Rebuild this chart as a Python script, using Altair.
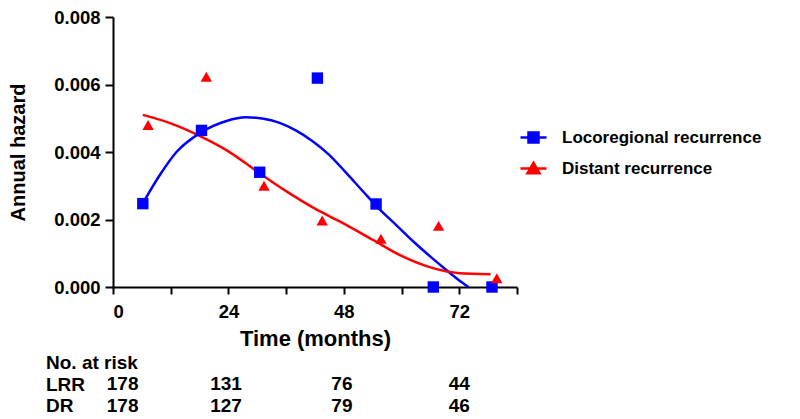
import altair as alt
import pandas as pd

# ---- data ----
series_names = ["Locoregional recurrence", "Distant recurrence"]
series_colors = ["#0000ff", "#ff0000"]
series_shapes = ["square", "triangle-up"]

lrr_months = [6.2, 18.4, 30.5, 42.5, 54.7, 66.6, 78.8]
lrr_hazard = [0.00247, 0.00464, 0.00340, 0.00619, 0.00246, 0.0, 0.0]
dr_months = [7.3, 19.4, 31.4, 43.5, 55.7, 67.7, 79.8]
dr_hazard = [0.00480, 0.00623, 0.00300, 0.00197, 0.00143, 0.00181, 0.00026]

# fitted curves
lrr_fit_months = [6.2, 9.7, 13.2, 18.4, 23.6, 27.5, 31.0, 34.5, 38.0, 41.5, 45.0,
                  48.5, 52.0, 55.5, 59.0, 62.5, 66.0, 69.5, 72.5, 73.9]
lrr_fit_hazard = [0.00248, 0.00331, 0.00400, 0.00459, 0.00492, 0.00503, 0.00499,
                  0.00487, 0.00464, 0.00432, 0.00391, 0.00338, 0.00283, 0.00229,
                  0.00182, 0.00134, 0.00090, 0.00048, 0.00014, 0.0]
dr_fit_months = [6.2, 12, 18, 24, 30, 36, 42, 48, 54, 60, 66, 72, 78.5]
dr_fit_hazard = [0.00510, 0.00485, 0.00448, 0.00402, 0.00342, 0.00284, 0.00232,
                 0.00188, 0.00140, 0.00092, 0.00058, 0.00041, 0.00038]

# number at risk table
risk_rows = ["No. at risk", "LRR", "DR"]
risk_months = [2, 23.5, 47.6, 72]
risk_lrr = [178, 131, 76, 44]
risk_dr = [178, 127, 79, 46]

x_ticks = [0, 12, 24, 36, 48, 60, 72, 84]
y_ticks = [0.0, 0.002, 0.004, 0.006, 0.008]

FONT = "Liberation Sans"

# ---- tables ----
pts = pd.DataFrame({
    "month": lrr_months + dr_months,
    "hazard": lrr_hazard + dr_hazard,
    "series": [series_names[0]] * len(lrr_months) + [series_names[1]] * len(dr_months),
})
fit = pd.DataFrame({
    "month": lrr_fit_months + dr_fit_months,
    "hazard": lrr_fit_hazard + dr_fit_hazard,
    "series": [series_names[0]] * len(lrr_fit_months) + [series_names[1]] * len(dr_fit_months),
    "order": list(range(len(lrr_fit_months))) + list(range(len(dr_fit_months))),
})
risk = pd.DataFrame({
    "month": risk_months * 2,
    "count": risk_lrr + risk_dr,
    "row": [risk_rows[1]] * len(risk_months) + [risk_rows[2]] * len(risk_months),
})

# legend symbols: line + marker
sym_lrr = "M-2.6,0H2.6M-1,-1H1V1H-1Z"
sym_dr = "M-2.6,0H2.6M0,-1.15L1.2,0.95H-1.2Z"
shape_expr = f"datum.value === '{series_names[0]}' ? '{sym_lrr}' : '{sym_dr}'"
color_expr = f"datum.value === '{series_names[0]}' ? '{series_colors[0]}' : '{series_colors[1]}'"

legend = alt.Legend(
    title=None, orient="none", legendX=412, legendY=112,
    labelFont=FONT, labelFontSize=17, labelFontWeight="bold", labelColor="black",
    labelLimit=400,
    symbolSize=100, symbolStrokeWidth=2.5, rowPadding=9, labelOffset=20,
    symbolType={"expr": shape_expr},
    symbolFillColor={"expr": color_expr},
    symbolStrokeColor={"expr": color_expr},
    symbolOpacity=1,
)

color = alt.Color("series:N", scale=alt.Scale(domain=series_names, range=series_colors), legend=legend)

x_enc = alt.X("month:Q", scale=alt.Scale(domain=[0, 84], nice=False),
              axis=alt.Axis(values=x_ticks, title="Time (months)",
                            labelExpr="(datum.value % 24 == 0 && datum.value < 84) ? datum.label : ''",
                            tickSize=7, labelPadding=8, titlePadding=8, titleFontSize=22))
y_enc = alt.Y("hazard:Q", scale=alt.Scale(domain=[0, 0.008], nice=False),
              axis=alt.Axis(values=y_ticks, format=".3f", title="Annual hazard",
                            tickSize=8, labelPadding=5, titlePadding=25, titleFontSize=20))

lines = alt.Chart(fit).mark_line(strokeWidth=2.5, interpolate="monotone").encode(
    x=x_enc, y=y_enc, color=color, order="order:Q", detail="series:N")

pt_layers = []
for name, shp in zip(series_names, series_shapes):
    pt_layers.append(
        alt.Chart(pts).transform_filter(alt.datum.series == name)
        .mark_point(filled=True, opacity=1, size=130, clip=False, shape=shp)
        .encode(x="month:Q", y="hazard:Q", color=color)
    )

main = alt.layer(lines, *pt_layers).properties(width=404, height=270)

table = alt.Chart(risk).mark_text(font=FONT, fontSize=19, fontWeight="bold", color="black").encode(
    x=alt.X("month:Q", scale=alt.Scale(domain=[0, 84], nice=False), axis=None),
    y=alt.Y("row:N", scale=alt.Scale(domain=risk_rows),
            axis=alt.Axis(title=None, domain=False, ticks=False, tickSize=0, labelAlign="left",
                          labelPadding=67.5, labelFont=FONT, labelFontSize=19,
                          labelFontWeight="bold", labelColor="black")),
    text="count:Q",
).properties(width=404, height=64.5)

chart = alt.vconcat(main, table, spacing=65, bounds="flush").configure_view(stroke=None).configure_axis(
    grid=False, domainColor="black", domainWidth=2, tickColor="black", tickWidth=2,
    labelFont=FONT, labelFontSize=18.5, labelFontWeight="bold", labelColor="black",
    titleFont=FONT, titleFontWeight="bold", titleColor="black",
).properties(padding={"left": 0, "top": 0, "right": 10, "bottom": 0}, background="white")

chart.save("out.html", embed_options={"renderer": "svg", "actions": False})
